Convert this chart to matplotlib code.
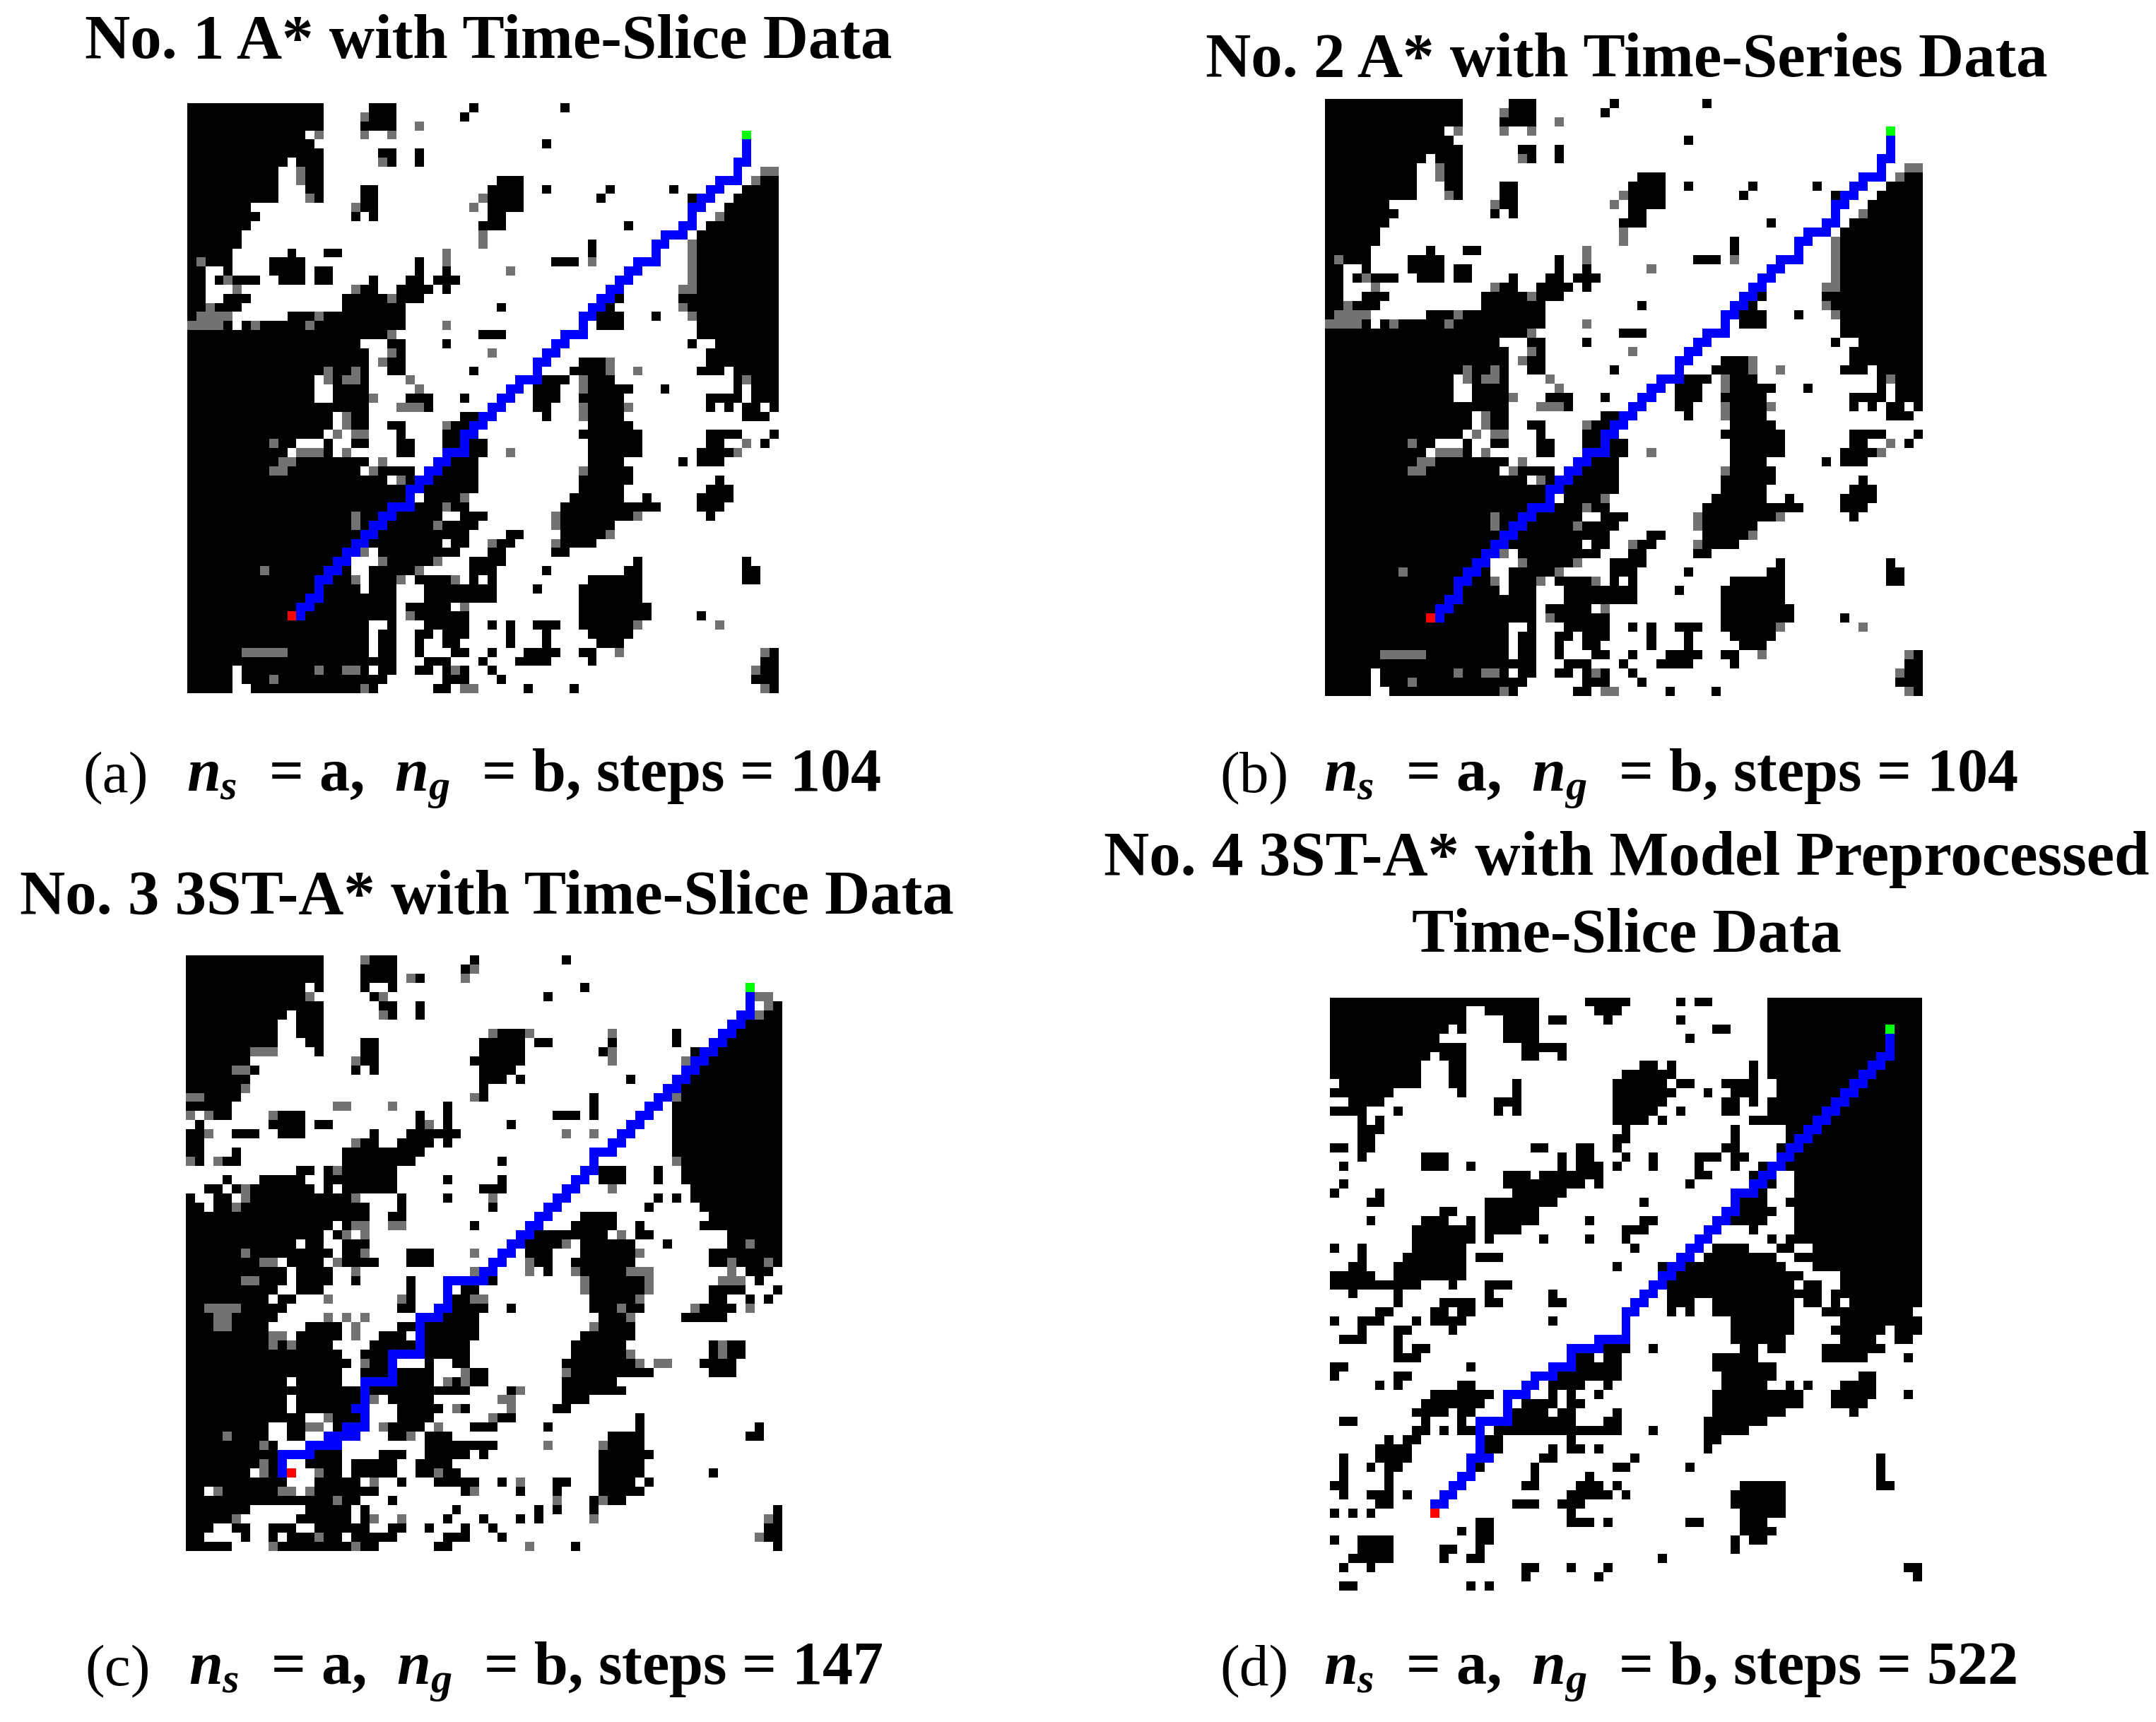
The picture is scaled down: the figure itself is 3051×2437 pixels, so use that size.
import numpy as np
import matplotlib
matplotlib.use("Agg")
import matplotlib.pyplot as plt

plt.rcParams['font.family'] = ['Liberation Serif', 'DejaVu Serif']
plt.rcParams['mathtext.fontset'] = 'custom'
plt.rcParams['mathtext.it'] = 'Liberation Serif:italic:bold'
plt.rcParams['mathtext.rm'] = 'Liberation Serif:bold'

W, H = 3051, 2437

# occupancy maps, one string per row: black column ranges, "g" = grey cell
map_ab = [
    "0-14 20-22 31 41", "0-14 19g 20-22 30", "0-14 19-22 25g", "0-12 14g 19g 22g", "0-13 39",
    "0-14 21-22 25", "0-10 12-14 21g 22 25", "0-9 12g 13-14 63g 64g", "0-9 12g 13-14 34-36 62g 63-64",
    "0-9 13-14 19-20 33-36 39 46 53 61-64", "0-9 13g 14 19-20 32g 33-36 45 55 60-64",
    "0-6 18g 19-20 31g 33-36 59-64", "0-7 18 20 33-34 58g 59-64", "0-6 32-34 48 57-64",
    "0-5 32g 56-64", "0-5 32g 44 55g 56-64", "0-4 11 15-16 28g 44 55g 56-64",
    "0-4 1g 9-12 25 28g 40-42 44g 55g 56-64", "0-1 4 9-12 14-15 25 28 35g 55g 56-64",
    "0-1 3 4g 5-7 10-12 14-15 20 24-25 27-29 55g 56-64", "0-1 5g 18g 19-20 23-26 28 54g 55g 56-64",
    "0-1 4-6 17-21 22g 23-25 47 54-64", "0-1 2g 3-5 17-23 34 46 54g 55-64",
    "0 1g 2g 3g 4g 11-23 14g 45-47 51 55g 56-64", "0g 1g 2g 3g 4 6 7g 8-23 13g 28g 45-47 56-64",
    "0-22 22g 32-34 56-64", "0-18 22-23 28 55 58-64", "0-19 22g 23 33g 57-64",
    "0-19 21g 22-23 43-45 46g 57-64", "0-14 15g 16-17 18g 19 22-23 31 42-45 46g 49g 56-58 60-64",
    "0-13 15g 16 17g 18g 19 24g 37-41 43g 44-46 60 61g 62-64", "0-13 16-19 25g 38-40 43g 44-48 52 60 62-64",
    "0-13 16-19 20g 24-26 30 38-40 43-47 57-60 62-64", "0-14 15 16-19 23g 24g 25g 26 38-39 43g 44-47 48g 57 59 61-62 64",
    "0-15 17g 18-19 30-31 39 43g 44-47 61-63", "0-15 17g 18-19 22-23 28g 29-30 44-48",
    "0-14 16g 18g 19g 23g 23 28-30 43 44-49 57-60 64", "0-8 9g 10-11 15 18-19 23-24 28-29 31-32 44-49 57-58 61g 63",
    "0-10 12g 13g 14g 15 17g 23-24 31-32 35g 44-49 56-59 60g", "0-9 10g 11g 12-19 21g 29-31 44-47 54 56-58",
    "0-8 9g 10g 11-18 20g 21-24 28-31 43g 44-48", "0-21 23g 24 27-31 43-48 58",
    "0-23 26-31 43-47 57-59", "0-23 26-29 30g 42-47 50 56-59", "0-21 25-27 28g 29-30 41-51 56-58",
    "0-17 18g 19-20 23-27 30-32 40g 41-48 49g 57", "0-17 18g 19 22-26 27g 28-31 40g 41-46",
    "0-18 21-30 35-36 41-45 46g", "0-19 20-27 29-30 33g 34-35 40g 41-44", "0-17 19g 21-29 33-34 40-41",
    "0-17 21g 22-26 27g 31-34 49 61", "0-17 8g 20-24 25g 31-33 39 48-49 61-62",
    "0-17 18g 20-22 23g 25-28 29g 31 33 44-49 61-62", "0-18 20-22 26-33 38 43-49", "0-22 26-33 43-49",
    "0-22 24-28 30g 43-50", "0-22 24g 25-30 43-50 56", "0-19 22 26-30 33 35 38-40 43-48 49g 58g",
    "0-19 21-22 25-26 28-30 35 39 44-48", "0-19 21-22 25 28-29 35 39 45-47",
    "0-19 6g 7g 8g 9g 10g 21-22 25 29-30 33 37-39 40 43-44 47g 63g 64", "0-19 20 21-22 26-27 28 32 36-39 44 63-64",
    "0-4 6-19 14g 17g 18g 21-22 25-26 28 29g 30 33 62g 63-64", "0-4 6-17 9g 18-21 28-30 34 62-64",
    "0-4 7-20 19g 27-28 30g 31g 37 42 63g 64",
]

map_c = [
    "0-14 19g 20-22 31 41", "0-14 19-22 30 31g", "0-14 19-22 24g 25 30g", "0-12 14 19 22 43", "0-12 13g 20 21g 39 62g 63g",
    "0-14 21-22 25 63g 64", "0-10 12-14 21g 22 25 62g 63-64", "0-9 12-14 61-64", "0-9 12-14 33g 34-36 37g 46g 53 60-64",
    "0-9 13-14 19-20 32-36 38-39 46 53 59-64", "0-6 7g 8g 9g 14 19-20 32-36 45 46g 55 58-64",
    "0-6 18g 19-20 31-36 46g 54g 57-64", "0-4 5g 6g 7 18 20 32-35 56-64", "0-6 32-34 36 48 55-64",
    "0-5 6g 32 54-64", "0g 1g 2-5 31g 32 44 53g 54-64", "0-4 16g 17g 22g 28 44 53-64",
    "0g 2g 3-4 9g 10-12 25 28 40-42 44 53-64", "1 9-12 14-15 25 26g 28 35 53-64",
    "0-1 2g 5-7 10-12 20 24-26 27-29 41g 44g 53-64", "0-1 18g 19-20 23-26 28 53-64",
    "0-1 5 17-25 46 53-64", "0g 1 3g 4-5 17-24 34 53g 54-64", "12-13 15 16g 17-22 45-47 51 54-64",
    "4 8-12 15 16-22 28 34 45-47 51 54-64", "2-3 5 6g 7-13 15 17-22 32-34 46g 55-64",
    "0 3-4 6g 7-17 18g 23 28 33g 51 53 55-64", "0-1 3-4 5g 6-19 23 33 50 56-64",
    "0-19 22-23 43-46 57-64", "0-15 17 18g 19g 22g 23g 31 42-46 49 56-64", "0-14 16 17g 19g 37-40 41-45 47g 49-50 59-64",
    "0-11 13-14 17-19 37-40 41g 43-48 52 59-60 61g 62-64", "0-5 6g 7-15 17-18 19g 24-26 31g 37-39 43-48 49g 57-64",
    "0-7 8g 9g 11-14 16g 17-20 24-26 37g 38-39 42-48 57-58 59g 60-62 63g 64",
    "0-10 12-15 18g 31g 32-33 37g 39 42g 43-47 48g 49g 50g 59g 61-63",
    "0-5 6g 7g 8-10 12-15 18 24 29-33 43g 44-49 50g 58g 59g 60g 62", "0-9 12-14 24 30-31 43g 44-49 50g 57-60 64",
    "0-8 10-11 15g 23g 24 29-30 31g 32g 44-48 49g 57-58 61 63", "0-1 2g 3g 4g 5g 6-10 23-24 29-32 35 44-46 47g 48-49 55g 56-59 61g",
    "0-2 3g 4g 5-9 15g 17g 19g 26-31 45-47 48g 54-58", "0-2 3g 4g 5-8 13-16 18g 23-24 26-31 44g 45-48",
    "0-8 9g 10g 12-16 18g 21-23 25-31 43-48", "0-8 9g 10 11g 12-15 20-30 42-47 57 58g 59-60",
    "0-16 19-30 42-47 48g 57 58g 59-60", "0-17 19g 20-22 26 29-30 41-48 49g 51g 52g 56-59",
    "0-16 19-22 23-26 30g 31-32 41g 42-50 57-59", "0-10 12-16 20-26 28g 29 30g 31-32 41-46",
    "0-18 19-30 35 36g 41-47", "0-10 12-18 20g 22-26 34g 35g 41-43", "0-10 12-17 23-27 29g 30 35g 40-41",
    "0-12 15g 16-18 23-26 33g 34-35 49", "0-8 11-12 13g 14g 16-18 21g 22-25 27g 31-33 39 49 62",
    "0-3 4g 5-8 11-12 17 22-23 24g 26-28 46-49 61-62",
    "0-7 8g 9 26-33 39g 45g 46-49", "0-13 14-16 21-23 26-30 32 45-50", "0-7 8g 9-10 13-14 15-16 18-22 25-28 45-49",
    "0-6 8g 9-10 14g 15-16 18-22 25-26 27g 28-29 45-49 57", "0-10 14-18 20g 23 27-31 34 36g 40-41 45-48 50",
    "0-1 3g 4-9 10g 11g 13g 14-20 30 31g 36 40 45-49", "0-11 12-15 16g 17-18 22 40g 44 45g 46-47",
    "0-6 13-17 19 29 38 40 44 64", "0-4 5g 12-17 19 20g 23g 28 32 36 38 44g 63g 64",
    "0-2 5-6 9-11 14-19 22-23 26 30 33 63-64", "0-1 6 9 11-13 14g 15-16 18-19 20-22 28-30 34 62g 63-64",
    "0-4 9g 10-18 18g 19-20 27-28 37g 42 64",
]

map_d = [
    "0-22 28-32 38 40-41 48-64", "0-14 17-22 29-31 48-64", "0-14 19-22 24-25 30 38 48-64",
    "0-12 14 19-22 42-43 48-64", "0-11 19-22 39 48-64", "0-14 21-25 48-64", "0-10 12-14 21-22 25 48-64",
    "0-9 13-14 34-35 37 46 48-64", "0-9 13-14 32-37 46 48-64", "1-9 13-14 20 31-36 38-39 43-46 49-64",
    "0-6 14 20 31-37 41 44-46 49-64", "2-5 18-20 31-36 43-44 46 48-64", "0-3 7 18 20 31-35 38 43-44 48-64",
    "3 5 31-34 36 46-64", "3-5 32 44 50-64", "3-4 31-32 44 50-64", "0-1 3-4 22-23 27-28 31 43-44 49-64",
    "3 10-12 25 27-28 32 35 40-42 44-45 49-64", "1 10-12 15 25 27-29 31 35 40 44 47-64",
    "19-21 23-29 40-41 46-48 51-64", "1 19-27 29 39 48 51-64", "0 5 20-25 47 51-64",
    "4-5 17-24 34 45-47 50-64", "12-13 17-22 45-48 51-64", "4 10-12 15 17-22 28 34-35 44-47 51-64",
    "9-15 17-20 32-34 46 51-64", "9-15 17 23 28 32 48 50-64", "0 3 9-14 33 42-45 49-50 53-64",
    "3 8-14 16-18 41-48 51-64", "2-3 7-14 31 36 38-49 53-64", "0-4 7-14 36-51 56-64",
    "0-9 13 17-19 36-50 52-53 56-64", "2 7 17 24 37-53 55-64", "7 12-15 17-18 24-25 37-39 42-50 52-53 55 57-64",
    "5-6 11-12 14-15 32 37 39 42-50 54-63", "0 3-5 9 11-14 24 32 44-50 56-64", "3 7-8 13 32 44-50 55-60 62-64",
    "1-3 7 44-49 56-59 62-63", "7 9-10 30-32 35 45-46 48-49 54-60", "7-9 27-28 30-31 42-46 54-58 63",
    "0-1 15 27-31 42-48", "0 7-8 25-29 30-31 43-48 58-59", "5 7 14-15 24-27 30 43-47 50 52 56-59",
    "11-17 24 26 29 42-51 55-59 63", "10-16 21-24 26-27 42-51 55-58", "9-12 14-15 20-23 25-26 31 42-49 57",
    "1-2 10 14 19-26 30-31 41-47", "9-10 12 14-15 18-31 35 41-45", "6 8-9 17-18 26 41-42",
    "5-8 17-18 24 26-27 29 41", "1 5-8 16-17 23-24 33 60", "1 4 6-7 16 22 31-32 39 60", "1 6 22 28 60",
    "0-1 6 21-22 27-29 31 45-49 60-61", "1 4-6 8 26-30 32 44-49", "5-6 20-22 25-27 44-49",
    "0 2 4 26 45-49", "16-17 26-28 30 39-40 45-47", "14 16-17 45-48", "0 3-6 16-17 44 46-47",
    "3-6 12-13 16 44", "2-6 12 15-16 36", "1 4 21-22 26 30 63-64", "21 29 64", "1-2 15 17",
]

# path cells per row, first entry is row 4
path_ab = [
    "61", "61", "60-61", "60", "58-60", "57-58", "56-57", "55-56", "55", "54-55", "52-54", "51-52", "51", "49-51",
    "48-49", "47-48", "46-47", "45-46", "44-45", "43-44", "43", "41-43", "40-41", "39-40", "38-39", "38", "36-38",
    "35-36", "34-35", "33-34", "32-33", "31-32", "30-31", "30", "28-30", "27-28", "26-27", "25-26", "24-25", "24",
    "22-24", "21-22", "20-21", "19-20", "18-19", "17-18", "16-17", "15-16", "14-15", "14", "13-14", "12-13", "12",
]
path_c = [
    "61", "61", "60-61", "59-60", "58-59", "57-58", "56-57", "55-56", "54-55", "53-54", "52-53", "51-52", "50-51",
    "49-50", "48-49", "47-48", "46-47", "44-46", "44", "43-44", "42-43", "41-42", "40-41", "39-40", "38-39", "37-38",
    "36-37", "35-36", "34-35", "33-34", "32-33", "28-32", "28", "28", "27-28", "25-27", "25", "25", "25", "22-25",
    "22", "22", "19-22", "19", "19", "18-19", "19", "17-19", "15-18", "13-16", "10-13", "10", "10",
]
path_d = [
    "61", "61", "60-61", "59-60", "58-59", "57-58", "56-57", "55-56", "54-55", "53-54", "52-53", "51-52", "50-51",
    "49-50", "48-49", "47-48", "46-47", "44-46", "44", "43-44", "42-43", "41-42", "40-41", "39-40", "38-39", "37-38",
    "36-37", "35-36", "34-35", "33-34", "32-33", "32", "32", "29-32", "26-29", "26", "24-26", "22-24", "21-22",
    "19-21", "19", "19", "16-19", "16", "16", "16", "15-17", "15", "14-15", "13-14", "12-13", "11-12",
]

start_cell = (56, 11)
goal_cell = (3, 61)

titles = ["No. 1 A* with Time-Slice Data", "No. 2 A* with Time-Series Data",
          "No. 3 3ST-A* with Time-Slice Data", "No. 4 3ST-A* with Model Preprocessed\nTime-Slice Data"]
letters = ["(a)", "(b)", "(c)", "(d)"]
steps = [104, 104, 147, 522]


def parse_tokens(s):
    cells = []
    for tok in s.split():
        grey = tok.endswith("g")
        tok = tok.rstrip("g")
        if "-" in tok:
            a, b = tok.split("-")
            cols = range(int(a), int(b) + 1)
        else:
            cols = [int(tok)]
        cells.append((cols, grey))
    return cells


def build_image(rows, path):
    img = np.ones((65, 65, 3))
    for r, s in enumerate(rows):
        for cols, grey in parse_tokens(s):
            for c in cols:
                img[r, c] = 0.45 if grey else 0.0
    for r, s in enumerate(path):
        for cols, grey in parse_tokens(s):
            for c in cols:
                img[r + 4, c] = (0, 0, 1)
    img[start_cell] = (1, 0, 0)
    img[goal_cell] = (0, 1, 0)
    return img


def add_map(img, box):
    # box is left, right, top, bottom in pixels of the output picture
    l, r, t, b = box
    ax = fig.add_axes([l / W, 1 - b / H, (r - l) / W, (b - t) / H])
    ax.imshow(img, interpolation="nearest", aspect="auto")
    ax.axis("off")


fig = plt.figure(figsize=(W / 100, H / 100), dpi=100, facecolor="white")

add_map(build_image(map_ab, path_ab), (265, 1101, 146, 981))
add_map(build_image(map_ab, path_ab), (1875, 2721, 140, 985))
add_map(build_image(map_c, path_c), (263, 1107, 1352, 2195))
add_map(build_image(map_d, path_d), (1882, 2720, 1412, 2251))

title_size = 64
fig.text(691 / W, 1 - 60 / H, titles[0], ha="center", va="center", fontsize=title_size, fontweight="bold")
fig.text(2302 / W, 1 - 86 / H, titles[1], ha="center", va="center", fontsize=title_size, fontweight="bold")
fig.text(689 / W, 1 - 1271 / H, titles[2], ha="center", va="center", fontsize=title_size, fontweight="bold")
fig.text(2302 / W, 1 - 1271 / H, titles[3], ha="center", va="center", fontsize=title_size, fontweight="bold", linespacing=1.45)

caption_pos = [(117, 1102), (1726, 1102), (120, 2366), (1726, 2366)]
for (x, y), letter, n in zip(caption_pos, letters, steps):
    fig.text(x / W, 1 - y / H, letter, ha="left", va="center", fontsize=60)
    fig.text((x + 147) / W, 1 - y / H, r"$n_s$  = a,  $n_g$  = b, steps = " + str(n),
             ha="left", va="center", fontsize=62, fontweight="bold")

fig.savefig("out.png", dpi=100, facecolor="white")
